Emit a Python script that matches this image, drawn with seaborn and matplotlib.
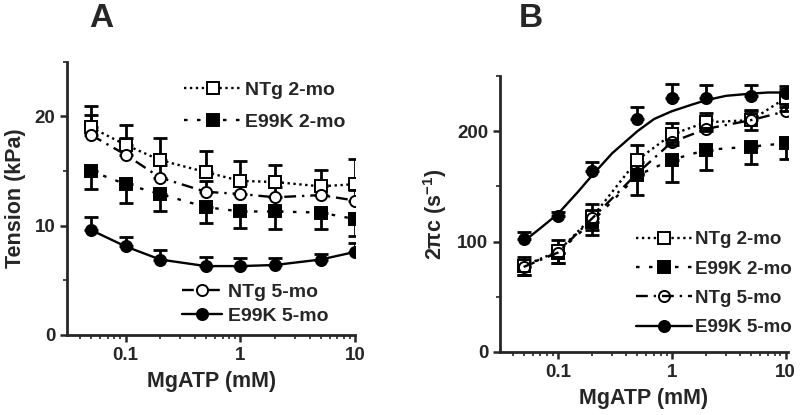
import numpy as np
import pandas as pd
import matplotlib
matplotlib.use('Agg')
import matplotlib.pyplot as plt
from matplotlib.ticker import MultipleLocator
import seaborn as sns

# MgATP concentrations (mM)
mgatp = [0.05, 0.1, 0.2, 0.5, 1, 2, 5, 10]

# Panel A: tension (kPa)
tension_ntg2 = [19.0, 17.4, 16.0, 14.9, 14.1, 14.0, 13.6, 13.8]
tension_ntg2_err = [2.0, 1.8, 2.0, 1.9, 1.8, 1.6, 1.5, 2.3]
tension_e99k2 = [15.0, 13.8, 12.9, 11.7, 11.3, 11.3, 11.2, 10.6]
tension_e99k2_err = [1.6, 1.7, 1.6, 1.5, 1.5, 1.6, 1.5, 1.5]
tension_ntg5 = [18.3, 16.5, 14.4, 13.1, 12.9, 12.6, 12.8, 12.3]
tension_ntg5_err = [1.8, 1.5, 1.2, 1.0, 0.9, 0.9, 0.9, 1.0]
tension_e99k5 = [9.6, 8.1, 6.9, 6.3, 6.3, 6.4, 6.9, 7.6]
tension_e99k5_err = [1.2, 0.9, 0.9, 0.8, 0.7, 0.6, 0.5, 0.8]

# Panel B: 2πc (s^-1)
rate_ntg2 = [78, 91, 122, 174, 197, 208, 210, 230]
rate_ntg2_err = [8, 10, 12, 13, 10, 8, 9, 8]
rate_e99k2 = [78, 90, 118, 160, 174, 183, 186, 189]
rate_e99k2_err = [8, 9, 12, 18, 20, 18, 16, 14]
rate_ntg5 = [77, 90, 121, 162, 190, 202, 210, 218]
rate_ntg5_err = [6, 7, 8, 10, 9, 8, 8, 7]
rate_e99k5 = [102, 123, 164, 211, 230, 230, 232, 235]
rate_e99k5_err = [7, 4, 8, 11, 13, 12, 10, 6]

# smooth fit curve for E99K 5-mo
fit_x = [0.05, 0.07, 0.1, 0.15, 0.2, 0.3, 0.5, 0.7, 1, 1.5, 2, 3, 5, 7, 10]
fit_e99k5 = [100, 112, 125, 145, 160, 180, 200, 211, 218, 224, 228, 232, 234, 235, 235]

labels = ['NTg 2-mo', 'E99K 2-mo', 'NTg 5-mo', 'E99K 5-mo']

sns.set_style('ticks')
plt.rcParams['font.family'] = ['Liberation Sans', 'DejaVu Sans']
plt.rcParams['font.weight'] = 'bold'
plt.rcParams['axes.labelweight'] = 'bold'
plt.rcParams['mathtext.default'] = 'regular'

fig = plt.figure(figsize=(8, 4.15), dpi=100)
axA = fig.add_axes([0.084, 0.193, 0.36, 0.658])
axB = fig.add_axes([0.625, 0.152, 0.36, 0.665])

styles = {
    'NTg 2-mo': dict(marker='s', mfc='white', ls=(0, (1, 1.5))),
    'E99K 2-mo': dict(marker='s', mfc='black', ls=(0, (1.5, 4))),
    'NTg 5-mo': dict(marker='o', mfc='white', ls=(0, (5, 2.5, 1, 2.5))),
    'E99K 5-mo': dict(marker='o', mfc='black', ls='-'),
}


def draw_series(ax, y, err, label, direction, line_y=None, line_x=None, mfc=None):
    st = styles[label]
    df = pd.DataFrame({'MgATP': mgatp, 'value': y})
    lo = err if direction in ('down', 'both') else [0] * len(err)
    hi = err if direction in ('up', 'both') else [0] * len(err)
    ax.errorbar(mgatp, y, yerr=[lo, hi], fmt='none', ecolor='black',
                elinewidth=2, capsize=5, capthick=2, zorder=2)
    if line_y is not None:
        sns.lineplot(x=line_x, y=line_y, ax=ax, color='black', lw=1.7,
                     linestyle=st['ls'], zorder=3)
        sns.lineplot(data=df, x='MgATP', y='value', ax=ax, color='black',
                     lw=0, marker=st['marker'], markersize=8,
                     markerfacecolor=mfc or st['mfc'], markeredgecolor='black',
                     markeredgewidth=1.4, zorder=4)
    else:
        sns.lineplot(data=df, x='MgATP', y='value', ax=ax, color='black',
                     lw=1.7, linestyle=st['ls'], marker=st['marker'],
                     markersize=8, markerfacecolor=mfc or st['mfc'],
                     markeredgecolor='black', markeredgewidth=1.4, zorder=4)


def handle(label, mfc=None):
    st = styles[label]
    return plt.Line2D([], [], color='black', lw=1.7, linestyle=st['ls'],
                      marker=st['marker'], markersize=8,
                      markerfacecolor=mfc or st['mfc'],
                      markeredgecolor='black', markeredgewidth=1.4)


# Panel A
draw_series(axA, tension_ntg2, tension_ntg2_err, 'NTg 2-mo', 'up')
draw_series(axA, tension_e99k2, tension_e99k2_err, 'E99K 2-mo', 'down')
draw_series(axA, tension_ntg5, tension_ntg5_err, 'NTg 5-mo', 'up')
draw_series(axA, tension_e99k5, tension_e99k5_err, 'E99K 5-mo', 'up')

leg1 = axA.legend([handle('NTg 2-mo'), handle('E99K 2-mo')], labels[:2],
                  loc='upper left', bbox_to_anchor=(0.38, 0.958), frameon=False,
                  fontsize=14, handlelength=2.9, handletextpad=0.2,
                  labelspacing=0.75, borderaxespad=0)
axA.add_artist(leg1)
axA.legend([handle('NTg 5-mo'), handle('E99K 5-mo')], labels[2:],
           loc='upper left', bbox_to_anchor=(0.37, 0.217), frameon=False,
           fontsize=14, handlelength=2.1, handletextpad=0.3,
           labelspacing=0.32, borderaxespad=0)

axA.set_ylim(0, 25)
axA.set_xlim(0.031, 10)
axA.yaxis.set_major_locator(MultipleLocator(10))
axA.yaxis.set_minor_locator(MultipleLocator(5))
axA.set_ylabel('Tension (kPa)', fontsize=15.5, labelpad=6)

# Panel B
draw_series(axB, rate_e99k2, rate_e99k2_err, 'E99K 2-mo', 'down')
draw_series(axB, rate_ntg2, rate_ntg2_err, 'NTg 2-mo', 'both')
draw_series(axB, rate_ntg5, rate_ntg5_err, 'NTg 5-mo', 'up', mfc='none')
draw_series(axB, rate_e99k5, rate_e99k5_err, 'E99K 5-mo', 'up',
            line_y=fit_e99k5, line_x=fit_x)

axB.legend([handle('NTg 2-mo'), handle('E99K 2-mo'), handle('NTg 5-mo', mfc='none'),
            handle('E99K 5-mo')], labels,
           loc='upper left', bbox_to_anchor=(0.445, 0.465), frameon=False,
           fontsize=13.5, handlelength=3.0, handletextpad=0.15,
           labelspacing=0.65, borderaxespad=0)

axB.set_ylim(0, 250)
axB.set_xlim(0.031, 10.5)
axB.yaxis.set_major_locator(MultipleLocator(100))
axB.yaxis.set_minor_locator(MultipleLocator(50))
axB.set_ylabel('2πc (s$^{-1}$)', fontsize=15.5, labelpad=6)

for ax in (axA, axB):
    ax.set_xscale('log')
    ax.set_xticks([0.1, 1, 10])
    ax.set_xticklabels(['0.1', '1', '10'])
    ax.set_xlabel('MgATP (mM)', fontsize=15.5, labelpad=5)
    for s in ('top', 'right'):
        ax.spines[s].set_visible(False)
    for s in ('left', 'bottom'):
        ax.spines[s].set_linewidth(2)
    ax.tick_params(which='major', direction='out', length=5, width=1.8,
                   labelsize=13.5)
    ax.tick_params(which='minor', direction='out', length=3, width=1.2)
    for t in ax.get_xticklabels() + ax.get_yticklabels():
        t.set_fontweight('bold')

fig.text(0.126, 0.955, 'A', fontsize=24, fontweight='bold', ha='center', va='center')
fig.text(0.664, 0.955, 'B', fontsize=24, fontweight='bold', ha='center', va='center')

fig.savefig('out.png', dpi=100)
